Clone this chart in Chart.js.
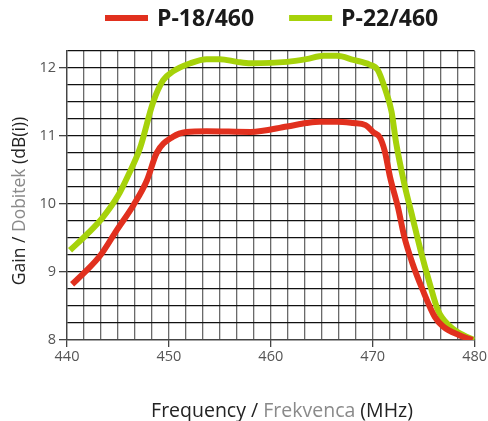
<!DOCTYPE html>
<html>
<head>
<meta charset="utf-8">
<script src="https://cdn.jsdelivr.net/npm/chart.js@4"></script>
<style>
  html, body { margin: 0; padding: 0; background: #fff; }
  #wrap { width: 488px; height: 421px; }
</style>
</head>
<body>
<div id="wrap"><canvas id="chart"></canvas></div>
<script>
const seriesNames = ['P-18/460', 'P-22/460']
const seriesColors = ['#e1301e', '#a6d20a']

// P-18/460
const freq18 = [440.5, 441.7, 443.3, 444.9, 446.55, 447.85, 448.8, 450.4, 451.7, 453.7, 458.0, 461.6, 463.5, 464.8, 466.5, 468.1, 469.3, 470.1, 470.7, 471.2, 471.7, 472.5, 473.1, 473.9, 474.9, 476.1, 476.9, 478.5, 479.8]
const gain18 = [8.82, 8.99, 9.25, 9.62, 9.99, 10.35, 10.75, 10.99, 11.06, 11.07, 11.06, 11.14, 11.19, 11.21, 11.21, 11.19, 11.16, 11.05, 10.98, 10.77, 10.4, 9.94, 9.52, 9.13, 8.74, 8.34, 8.2, 8.07, 8.0]

// P-22/460
const freq22 = [440.3, 442, 443.5, 445, 446, 447.16, 448.46, 449.44, 450.4, 452.1, 453.7, 455.0, 456.7, 458.0, 461.6, 463.5, 465.2, 466.5, 468.1, 469.7, 470.5, 471.2, 471.85, 472.3, 473.1, 473.9, 474.7, 475.6, 476.4, 477.6, 478.9, 480]
const gain22 = [9.32, 9.56, 9.8, 10.12, 10.42, 10.82, 11.5, 11.82, 11.95, 12.07, 12.13, 12.13, 12.09, 12.07, 12.09, 12.13, 12.18, 12.18, 12.12, 12.05, 11.97, 11.7, 11.36, 10.9, 10.3, 9.81, 9.32, 8.83, 8.44, 8.2, 8.07, 8.0]

const xMin = 440, xMax = 480, xStep = 10 / 6
const yMin = 8, yMax = 12.25, yStep = 0.25

const toPoints = (xs, ys) => xs.map((x, i) => ({x, y: ys[i]}))
const isWhole = v => Math.abs(v - Math.round(v)) < 1e-6
const isTen = v => Math.abs(v / 10 - Math.round(v / 10)) < 1e-6

// axis titles with a grey middle word
const drawParts = (ctx, parts, x, y) => {
    let total = parts.reduce((s, p) => s + ctx.measureText(p[0]).width, 0)
    let cx = x - total / 2
    parts.forEach(p => {
        ctx.fillStyle = p[1]
        ctx.fillText(p[0], cx, y)
        cx += ctx.measureText(p[0]).width
    })
}

const axisTitles = {
    id: 'axisTitles',
    afterDraw: chart => {
        const {ctx} = chart
        ctx.save()
        ctx.textBaseline = 'middle'
        ctx.textAlign = 'left'
        ctx.font = '19.5px "Open Sans"'
        drawParts(ctx, [['Frequency / ', '#222'], ['Frekvenca', '#8a8a8a'], [' (MHz)', '#222']], 282, 411)
        ctx.font = '17.5px "Open Sans"'
        ctx.translate(20, 201)
        ctx.rotate(-Math.PI / 2)
        drawParts(ctx, [['Gain / ', '#222'], ['Dobitek', '#8a8a8a'], [' (dB(i))', '#222']], 0, 0)
        ctx.restore()
    }
}

// legend row above the plot
const topLegend = {
    id: 'topLegend',
    afterDraw: chart => {
        const {ctx} = chart
        ctx.save()
        ctx.font = 'bold 23px "Open Sans"'
        ctx.textBaseline = 'middle'
        ctx.textAlign = 'left'
        let x = 105, y = 18
        chart.data.datasets.forEach(ds => {
            ctx.fillStyle = ds.borderColor
            ctx.fillRect(x, y - 3, 43, 6)
            x += 52
            ctx.fillStyle = '#1a1a1a'
            ctx.fillText(ds.label, x, y + 1)
            x += ctx.measureText(ds.label).width + 35
        })
        ctx.restore()
    }
}

const datasets = [
    {label: seriesNames[0], data: toPoints(freq18, gain18)},
    {label: seriesNames[1], data: toPoints(freq22, gain22)}
].map((d, i) => ({
    ...d,
    borderColor: seriesColors[i],
    backgroundColor: seriesColors[i],
    borderWidth: 6,
    pointRadius: 0,
    cubicInterpolationMode: 'monotone',
    borderCapStyle: 'butt'
}))

new Chart(document.getElementById('chart'), {
    type: 'line',
    data: {datasets},
    plugins: [axisTitles, topLegend],
    options: {
        responsive: true,
        maintainAspectRatio: false,
        animation: false,
        layout: {padding: {left: 0, right: 12, top: 51, bottom: 0}},
        plugins: {
            tooltip: {enabled: false},
            legend: {display: false}
        },
        scales: {
            x: {
                type: 'linear',
                min: xMin,
                max: xMax,
                afterBuildTicks: scale => {
                    let ticks = []
                    for (let i = 0; i <= 24; i++) ticks.push({value: xMin + i * xStep})
                    scale.ticks = ticks
                },
                afterFit: scale => { scale.height = 81 },
                ticks: {
                    autoSkip: false,
                    maxRotation: 0,
                    padding: 1,
                    color: '#555',
                    font: {family: '"Open Sans"', size: 14.5},
                    callback: v => isTen(v) ? Math.round(v) : ''
                },
                grid: {
                    color: '#6a6a6a',
                    lineWidth: 1.3,
                    tickLength: 7,
                    tickColor: c => isTen(c.tick.value) ? '#444' : 'rgba(0,0,0,0)'
                },
                border: {color: '#444', width: 1.3}
            },
            y: {
                min: yMin,
                max: yMax,
                afterBuildTicks: scale => {
                    let ticks = []
                    for (let i = 0; i <= 17; i++) ticks.push({value: yMin + i * yStep})
                    scale.ticks = ticks
                },
                afterFit: scale => { scale.width = 67 },
                ticks: {
                    autoSkip: false,
                    padding: 3,
                    color: '#555',
                    font: {family: '"Open Sans"', size: 14.5},
                    callback: v => isWhole(v) ? Math.round(v) : ''
                },
                grid: {
                    color: '#111',
                    lineWidth: 1.3,
                    tickLength: 8,
                    tickColor: c => isWhole(c.tick.value) ? '#444' : 'rgba(0,0,0,0)'
                },
                border: {color: '#444', width: 1.3}
            }
        }
    }
})
</script>
</body>
</html>
